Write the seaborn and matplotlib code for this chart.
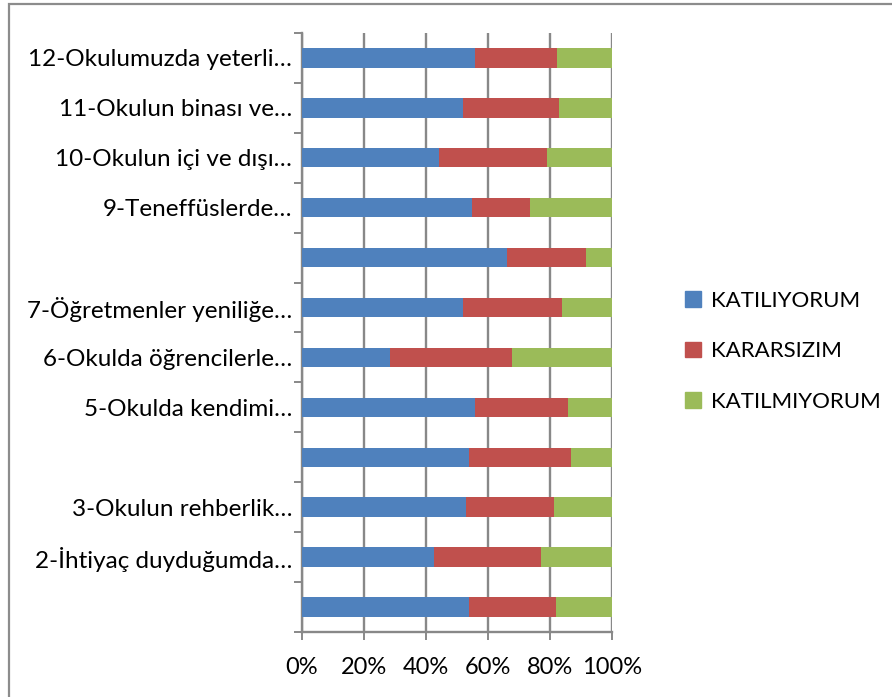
import pandas as pd
import matplotlib.pyplot as plt
import matplotlib.patches as mpatches
from matplotlib.ticker import FixedLocator
import seaborn as sns

# Datos (porcentajes por pregunta, de la 1 a la 12)
preguntas = ["Q1", "Q2", "Q3", "Q4", "Q5", "Q6", "Q7", "Q8", "Q9", "Q10", "Q11", "Q12"]
etiquetas = [
    "",
    "2-İhtiyaç duyduğumda…",
    "3-Okulun rehberlik…",
    "",
    "5-Okulda kendimi…",
    "6-Okulda öğrencilerle…",
    "7-Öğretmenler yeniliğe…",
    "",
    "9-Teneffüslerde…",
    "10-Okulun içi ve dışı…",
    "11-Okulun binası ve…",
    "12-Okulumuzda yeterli…",
]
katiliyorum = [53.9, 42.5, 53.0, 53.9, 55.7, 28.3, 52.0, 66.1, 54.8, 44.3, 52.0, 55.7]
kararsizim = [28.2, 34.8, 28.2, 32.9, 30.2, 39.6, 32.0, 25.5, 18.8, 34.9, 30.9, 26.5]
katilmiyorum = [17.9, 22.7, 18.8, 13.2, 14.1, 32.1, 16.0, 8.4, 26.4, 20.8, 17.1, 17.8]
series = ["KATILIYORUM", "KARARSIZIM", "KATILMIYORUM"]
colores = ["#4F81BD", "#C0504D", "#9BBB59"]

df = pd.DataFrame({
    "pregunta": preguntas,
    "KATILIYORUM": katiliyorum,
    "KARARSIZIM": kararsizim,
    "KATILMIYORUM": katilmiyorum,
})
total = df[series].sum(axis=1)
for s in series:
    df[s] = df[s] / total * 100
# acumulados para apilar
df["c1"] = df["KATILIYORUM"]
df["c2"] = df["c1"] + df["KARARSIZIM"]
df["c3"] = df["c2"] + df["KATILMIYORUM"]

sns.set_theme(style="white")
plt.rcParams["font.family"] = ["Lato", "DejaVu Sans"]

fig = plt.figure(figsize=(8.92, 6.97), dpi=100)
ax = fig.add_axes([0.3386, 0.0933, 0.3472, 0.8594])

orden = preguntas[::-1]
for col, c in zip(["c3", "c2", "c1"], colores[::-1]):
    sns.barplot(data=df, x=col, y="pregunta", order=orden, color=c,
                width=0.39, saturation=1, linewidth=0, ax=ax, zorder=3)

ax.set_xlim(0, 100)
ax.set_ylim(len(orden) - 0.5, -0.5)
ax.set_xlabel("")
ax.set_ylabel("")

# eje X
ax.set_xticks([0, 20, 40, 60, 80, 100])
ax.set_xticklabels(["0%", "20%", "40%", "60%", "80%", "100%"])
ax.xaxis.grid(True, color="#888888", linewidth=1.7, zorder=0)
ax.set_axisbelow(True)

# eje Y: etiquetas centradas, marcas entre categorias
ax.set_yticks(range(len(orden)))
ax.set_yticklabels(etiquetas[::-1])
ax.yaxis.set_minor_locator(FixedLocator([i - 0.5 for i in range(len(orden) + 1)]))
ax.tick_params(axis="y", which="major", length=0, pad=7, labelsize=17.5, labelcolor="black")
ax.tick_params(axis="y", which="minor", left=True, length=6, width=1.4, color="#888888")
ax.tick_params(axis="x", which="major", bottom=True, length=6, width=1.4, color="#888888",
               labelsize=17, labelcolor="black", pad=12)

for lado in ["top", "right"]:
    ax.spines[lado].set_visible(False)
for lado in ["left", "bottom"]:
    ax.spines[lado].set_color("#888888")
    ax.spines[lado].set_linewidth(1.7)

# leyenda
handles = [mpatches.Patch(color=c, label=s) for s, c in zip(series, colores)]
leg = fig.legend(handles=handles, loc="center left", bbox_to_anchor=(0.745, 0.496),
                 frameon=False, fontsize=16, handlelength=0.72, handleheight=0.72,
                 handletextpad=0.45, labelspacing=1.38)
for t in leg.get_texts():
    t.set_color("black")

# marco del area del grafico
marco = mpatches.Rectangle((9 / 892, -0.05), 1.1, 1 - 4 / 697 + 0.05,
                           transform=fig.transFigure, fill=False,
                           edgecolor="#8c8c8c", linewidth=1.6, clip_on=False)
fig.patches.append(marco)

fig.savefig("out.png", dpi=100)
